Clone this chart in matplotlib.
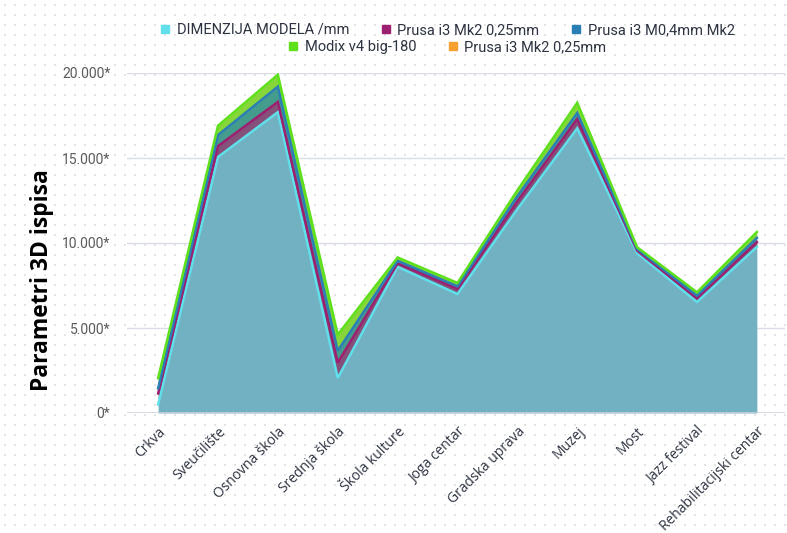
import numpy as np
import matplotlib
matplotlib.use('Agg')
import matplotlib.pyplot as plt
from matplotlib.lines import Line2D

# data
categories = ['Crkva', 'Sveučilište', 'Osnovna škola', 'Srednja škola', 'Škola kulture',
              'Joga centar', 'Gradska uprava', 'Muzej', 'Most', 'Jazz festival',
              'Rehabilitacijski centar']
dimenzija = [500, 15060, 17700, 2060, 8600, 7000, 12000, 16750, 9400, 6530, 9770]
prusa_mk2 = [650, 640, 600, 900, 200, 300, 450, 550, 150, 220, 290]
prusa_m04 = [300, 650, 900, 700, 150, 150, 300, 350, 100, 150, 240]
modix = [600, 550, 700, 950, 200, 200, 350, 600, 100, 200, 350]
prusa_mk2_b = [0, 0, 0, 0, 0, 0, 0, 0, 0, 0, 0]

series_names = ['DIMENZIJA MODELA /mm', 'Prusa i3 Mk2 0,25mm', 'Prusa i3 M0,4mm Mk2',
                'Modix v4 big-180', 'Prusa i3 Mk2 0,25mm']
line_colors = ['#5fe0ea', '#9c1f70', '#2a7fb5', '#5fe01c', '#f5a030']
fill_colors = ['#72b1c2', '#85507a', '#449c8c', '#86d63a', '#f5a030']
legend_colors = ['#5fe0ea', '#9c1f70', '#2a7fb5', '#5fe01c', '#f5a030']

fig = plt.figure(figsize=(7.87, 5.33), dpi=100)
fig.patch.set_facecolor('white')

# dotted background
bg = fig.add_axes([0, 0, 1, 1], zorder=-5)
bg.set_xlim(0, 787)
bg.set_ylim(533, 0)
bg.axis('off')
gx, gy = np.meshgrid(np.arange(5, 787, 10), np.arange(5, 533, 10))
bg.scatter(gx.ravel(), gy.ravel(), s=1.6, marker='s', color='#e4e4e4', linewidths=0)

ax = fig.add_axes([127 / 787, 120 / 533, (785 - 127) / 787, 340 / 533])
ax.set_facecolor('none')
x = np.arange(len(categories))
ax.set_xlim(-0.52, 10.47)
ax.set_ylim(0, 20000)

data = [dimenzija, prusa_mk2, prusa_m04, modix, prusa_mk2_b]
base = np.zeros(len(categories))
for vals, lc, fc in zip(data, line_colors, fill_colors):
    top = base + np.array(vals)
    if np.any(np.array(vals) > 0):
        ax.fill_between(x, base, top, color=fc, linewidth=0, zorder=2)
        ax.plot(x, top, color=lc, lw=1.8, zorder=3, solid_joinstyle='miter')
    base = top

for v in [5000, 10000, 15000, 20000]:
    ax.axhline(v, color='#dadde8', lw=1, zorder=1)
ax.axhline(0, color='#d0d3dc', lw=1.2, zorder=4)

for s in ax.spines.values():
    s.set_visible(False)

ax.set_yticks([0, 5000, 10000, 15000, 20000])
ax.set_yticklabels(['0*', '5.000*', '10.000*', '15.000*', '20.000*'],
                   fontsize=10, color='#5a5a5a', family='Roboto')
ax.tick_params(axis='y', length=0, pad=12)
ax.set_xticks(x)
ax.set_xticklabels(categories, rotation=45, ha='right', va='top', rotation_mode='anchor',
                   fontsize=10, color='#2d3340', family='Open Sans')
ax.tick_params(axis='x', length=0, pad=8)

fig.text(42 / 787, 1 - 280 / 533, 'Parametri 3D ispisa', rotation=90, ha='center',
         va='center', fontsize=16.5, fontweight='bold', family='Open Sans', color='black')

def handle(c):
    return Line2D([], [], marker='s', linestyle='none', color=c, markersize=6)

leg_kw = dict(loc='center', frameon=False, prop={'family': 'Roboto', 'size': 10.5},
              handletextpad=0.4, columnspacing=2.1, handlelength=0.8, labelcolor='#2d3340')
leg1 = fig.legend([handle(c) for c in legend_colors[:3]], series_names[:3],
                  bbox_to_anchor=(447 / 787, 1 - 30 / 533), ncol=3, **leg_kw)
leg2 = fig.legend([handle(c) for c in legend_colors[3:]], series_names[3:],
                  bbox_to_anchor=(447 / 787, 1 - 47 / 533), ncol=2, **leg_kw)

fig.savefig('out.png', dpi=100)
